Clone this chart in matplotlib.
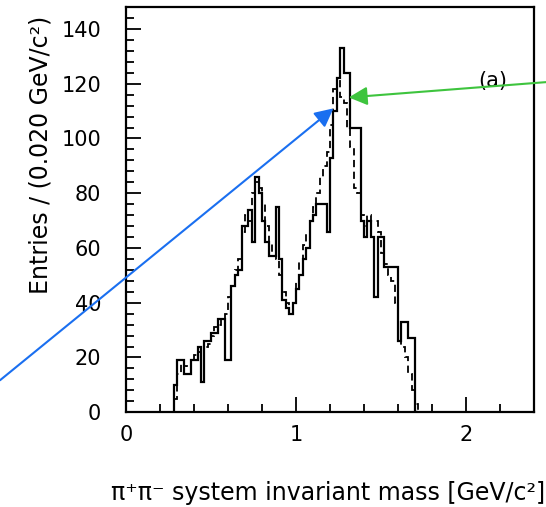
import numpy as np
import matplotlib
matplotlib.use('Agg')
import matplotlib.pyplot as plt
from matplotlib.ticker import MultipleLocator

# histogram bins: 0.020 GeV wide, first bin starts at 0.28 GeV
bin_start = 0.28
bin_width = 0.02

# solid histogram (entries per bin)
solid = [
    10, 19, 19, 14, 14, 19, 19, 24, 11, 26,   # 0.28 - 0.46
    26, 29, 29, 34, 34, 19, 19, 46, 50, 52,   # 0.48 - 0.66
    68, 68, 74, 62, 86, 80, 70, 62, 57, 57,   # 0.68 - 0.86
    75, 56, 41, 38, 36, 40, 45, 50, 56, 60,   # 0.88 - 1.06
    70, 72, 76, 76, 76, 66, 93, 110, 122, 133,  # 1.08 - 1.26
    124, 124, 104, 104, 104, 70, 64, 70, 64, 42,  # 1.28 - 1.46
    64, 64, 53, 53, 53, 53, 26, 33, 33, 27,   # 1.48 - 1.66
    27, 0,                                    # 1.68 - 1.70
]

# dashed histogram
dashed = [
    5, 14, 18, 17, 16, 19, 21, 22, 20, 24,
    25, 28, 31, 32, 34, 36, 42, 46, 52, 56,
    66, 72, 70, 80, 84, 82, 76, 68, 62, 58,
    56, 50, 44, 40, 36, 40, 48, 55, 61, 65,
    70, 75, 80, 86, 90, 95, 105, 118, 122, 115,
    113, 104, 97, 82, 80, 72, 68, 72, 70, 70,
    66, 58, 54, 50, 48, 40, 26, 24, 20, 14,
    8, 3,
]

edges = bin_start + bin_width * np.arange(len(solid) + 1)

fig = plt.figure(figsize=(5.46, 5.07), dpi=100)
ax = fig.add_axes([0.231, 0.187, 0.747, 0.799])

ax.stairs(solid, edges, color='black', lw=1.6)
ax.stairs(dashed, edges, color='black', lw=1.3, linestyle=(0, (4, 2.5)))

ax.set_xlim(0, 2.40)
ax.set_ylim(0, 148)

ax.xaxis.set_major_locator(MultipleLocator(1))
ax.xaxis.set_minor_locator(MultipleLocator(0.2))
ax.yaxis.set_major_locator(MultipleLocator(20))
ax.yaxis.set_minor_locator(MultipleLocator(4))

ax.tick_params(which='both', direction='in', top=False, right=False,
               width=1.3, labelsize=15)
ax.tick_params(which='major', length=11)
ax.tick_params(which='minor', length=6)
ax.tick_params(axis='y', pad=18)
ax.tick_params(axis='x', pad=9)

for spine in ax.spines.values():
    spine.set_linewidth(1.6)

ax.set_ylabel('Entries / (0.020 GeV/c²)', fontsize=17, va='center')
ax.yaxis.set_label_coords(-0.21, 0.635)
ax.set_xlabel('π⁺π⁻ system invariant mass [GeV/c²]', fontsize=17,
              va='center')
ax.xaxis.set_label_coords(0.495, -0.2)

ax.text(2.16, 121, '(a)', fontsize=15, ha='center', va='center')

# annotation arrows coming from outside the frame
ax.annotate('', xy=(1.22, 111), xytext=(0.0, 0.25),
            textcoords='figure fraction', annotation_clip=False,
            arrowprops=dict(arrowstyle='-|>', color='#1a6ff0', lw=1.5,
                            mutation_scale=28, shrinkA=0, shrinkB=0))
ax.annotate('', xy=(1.31, 115), xytext=(1.0, 0.838),
            textcoords='figure fraction', annotation_clip=False,
            arrowprops=dict(arrowstyle='-|>', color='#3ec43e', lw=1.5,
                            mutation_scale=28, shrinkA=0, shrinkB=0))

fig.savefig('out.png', dpi=100)
